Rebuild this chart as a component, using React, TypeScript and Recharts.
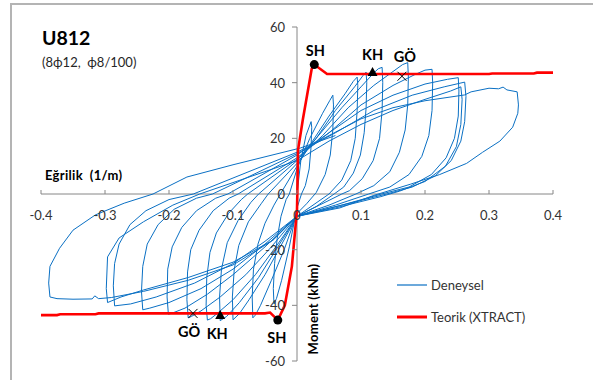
import React from 'react';
import { ScatterChart, Scatter, XAxis, YAxis, ReferenceLine, Legend } from 'recharts';

// ---- tick values / labels ----
const xTicks = [-0.4, -0.3, -0.2, -0.1, 0, 0.1, 0.2, 0.3, 0.4];
const xTickLabels = ['-0.4', '-0.3', '-0.2', '-0.1', '0', '0.1', '0.2', '0.3', '0.4'];
const yTicks = [-60, -40, -20, 0, 20, 40, 60];
const yTickLabels = ['-60', '-40', '-20', '0', '20', '40', '60'];

// ---- Deneysel (experimental) hysteresis: [curvature 1/m, moment kNm] ----
const cycle1 = [[0,0],[0.006,12],[0.014,21],[0.022,26],[0.023,24],[0.022,17],[0.019,9],[0.013,3],[0.007,0],[0,-5],[-0.012,-19],[-0.024,-31],[-0.032,-37.5],[-0.036,-39.5],[-0.037,-34],[-0.035,-25],[-0.031,-16],[-0.025,-8],[-0.017,-2],[-0.012,0],[0,9]];
const cycle2 = [[0.02,20],[0.04,29],[0.051,33.5],[0.056,35.5],[0.057,32],[0.056,23],[0.052,14],[0.044,7],[0.03,0.5],[0.015,-3.5],[0,-7],[-0.02,-20],[-0.04,-31],[-0.057,-40],[-0.065,-43.5],[-0.069,-44.5],[-0.07,-37],[-0.068,-27],[-0.061,-18],[-0.05,-10.5],[-0.036,-4],[-0.026,0],[0,10]];
const cycle3 = [[0.02,17.5],[0.05,28],[0.075,36],[0.088,40.5],[0.094,42],[0.095,39],[0.094,30],[0.091,20],[0.084,12],[0.07,5],[0.05,0],[0.025,-4],[0,-8],[-0.025,-18.5],[-0.05,-29],[-0.075,-38],[-0.09,-43],[-0.1,-45.2],[-0.101,-37],[-0.098,-27],[-0.091,-18.5],[-0.076,-10],[-0.056,-3.5],[-0.045,0],[0,11]];
const cycle4 = [[0.03,20],[0.06,30],[0.09,38.5],[0.103,42.5],[0.108,43.8],[0.109,40],[0.108,31],[0.105,22],[0.099,14],[0.088,7.5],[0.073,2.5],[0.058,0],[0.03,-4.5],[0,-8],[-0.03,-19],[-0.06,-30],[-0.09,-39],[-0.11,-44],[-0.12,-45.5],[-0.121,-37],[-0.118,-27],[-0.109,-17.5],[-0.092,-9.5],[-0.072,-3],[-0.06,0],[0,12]];
const cycle5 = [[0.03,20],[0.07,31],[0.1,38.5],[0.12,43.5],[0.127,45],[0.133,45.5],[0.134,40],[0.133,30],[0.129,20],[0.119,12],[0.102,5.5],[0.082,1.2],[0.07,0],[0.035,-4],[0,-8],[-0.03,-18],[-0.065,-29],[-0.1,-38],[-0.125,-43],[-0.135,-44.8],[-0.14,-45.3],[-0.142,-40],[-0.141,-30],[-0.136,-21],[-0.126,-14],[-0.107,-7],[-0.087,-2],[-0.077,0],[0,12.5]];
const cycle6 = [[0.04,21],[0.08,31],[0.12,39],[0.15,44],[0.165,46.5],[0.173,47.2],[0.174,42],[0.173,32],[0.169,23],[0.16,15],[0.145,8],[0.12,3],[0.092,0],[0.05,-4],[0,-8],[-0.04,-19],[-0.08,-29],[-0.12,-37],[-0.15,-42],[-0.165,-44],[-0.17,-44.5],[-0.172,-38],[-0.171,-28],[-0.166,-20],[-0.153,-13],[-0.131,-6],[-0.106,-1.5],[-0.092,0],[0,13]];
const cycle7 = [[0.05,22],[0.1,32],[0.15,39],[0.185,43],[0.2,44.5],[0.211,44.8],[0.212,40],[0.211,30],[0.206,21],[0.195,13.5],[0.175,7],[0.145,2.5],[0.112,0],[0.06,-4],[0,-8],[-0.05,-19],[-0.1,-29],[-0.14,-36],[-0.175,-41],[-0.195,-42.8],[-0.201,-43.2],[-0.203,-37],[-0.202,-27],[-0.195,-19],[-0.18,-12],[-0.157,-6],[-0.127,-1.5],[-0.108,0],[0,14]];
const cycle8 = [[0.05,22],[0.1,30],[0.15,35.5],[0.2,39.5],[0.235,41.2],[0.252,41.8],[0.253,37],[0.252,28],[0.246,20],[0.233,13],[0.21,7],[0.175,2.5],[0.132,0],[0.07,-4],[0,-8],[-0.05,-18],[-0.1,-27],[-0.15,-34],[-0.2,-39],[-0.23,-41],[-0.241,-41.6],[-0.243,-35],[-0.241,-26],[-0.234,-18],[-0.217,-11],[-0.192,-5.5],[-0.157,-1.5],[-0.132,0],[0,14.5]];
const cycle9 = [[0.06,22],[0.12,30],[0.18,35.5],[0.23,38.5],[0.262,40.2],[0.264,35],[0.262,26],[0.256,19],[0.241,12],[0.216,6.5],[0.18,2.5],[0.14,0],[0.07,-4],[0,-8],[-0.05,-17],[-0.1,-25],[-0.16,-32],[-0.22,-37],[-0.26,-39.5],[-0.285,-40.2],[-0.287,-33],[-0.285,-25],[-0.278,-18],[-0.261,-11],[-0.236,-6],[-0.2,-2],[-0.162,0],[0,15]];
const cycle10 = [[0.05,21],[0.1,27],[0.15,31],[0.2,33.5],[0.262,35.6],[0.272,36.7],[0.3,38],[0.315,37.8],[0.322,38.4],[0.328,37.4],[0.344,36.7],[0.346,32],[0.345,29],[0.337,24],[0.317,19],[0.29,15],[0.265,11],[0.223,7],[0.177,3.5],[0.12,-0.5],[0.067,-5],[0,-8],[-0.037,-16.5],[-0.1,-24.5],[-0.17,-30],[-0.24,-34.5],[-0.275,-37],[-0.296,-39],[-0.298,-34],[-0.296,-22.6],[-0.278,-15.8],[-0.24,-10],[-0.194,-4],[-0.152,0],[0,12]];
const cycle11 = [[0.05,19],[0.1,25],[0.15,30],[0.2,34],[0.24,37],[0.256,38.5],[0.258,34],[0.256,25],[0.249,17],[0.232,10],[0.2,4.5],[0.16,1],[0.13,-1],[0.06,-5],[0,-8],[-0.04,-17],[-0.1,-25.5],[-0.17,-31],[-0.24,-35],[-0.29,-37.2],[-0.31,-37.6],[-0.316,-36.6],[-0.32,-37.7],[-0.35,-37.8],[-0.375,-37.6],[-0.386,-37],[-0.388,-32],[-0.386,-26],[-0.371,-19.5],[-0.35,-13],[-0.315,-7.5],[-0.27,-3.3],[-0.225,0],[-0.172,6.1],[-0.1,10.5],[0.005,16.5],[0.06,21]];

// ---- Teorik (XTRACT) ----
const teorik = [[-0.4,-43.5],[-0.375,-43.5],[-0.37,-43.2],[-0.315,-43.2],[-0.31,-42.9],[-0.05,-42.9],[-0.042,-42.6],[-0.03,-45.3],[-0.019,-40],[-0.008,-26],[0,-5.7],[0.0005,0],[0.0016,15.8],[0.009,26.6],[0.023,45],[0.027,46.5],[0.047,43.1],[0.3,43.1],[0.305,43.3],[0.37,43.3],[0.375,43.6],[0.4,43.6]];

// ---- markers ----
const shPoints = [[0.027,46.5],[-0.03,-45.3]];
const khPoints = [[0.118,43.8],[-0.12,-43.5]];
const goPoints = [[0.164,42.3],[-0.1625,-42.9]];

const toObj = (arr: number[][]) => arr.map(([x, y]) => ({ x, y }));
const deneyselData = toObj([...cycle1, ...cycle2, ...cycle3, ...cycle4, ...cycle5, ...cycle6, ...cycle7, ...cycle8, ...cycle9, ...cycle10, ...cycle11]);
const teorikData = toObj(teorik);

const FONT = "Lato, 'Open Sans', 'DejaVu Sans', sans-serif";
const AXIS = '#868686';
const BLUE = '#0A70C4';
const RED = '#FF0000';
const TXT = '#333333';
const X0 = 297; // pixel position of x = 0
const Y0 = 194; // pixel position of y = 0

const XTick = (props: any) => {
  const { x, payload } = props;
  const label = xTickLabels[xTicks.indexOf(payload.value)];
  return (
    <g>
      <line x1={x} x2={x} y1={Y0 - 4} y2={Y0} stroke={AXIS} strokeWidth={1} />
      <text x={x} y={Y0 + 21} textAnchor="middle" dominantBaseline="central" fontSize={13} fill={TXT} fontFamily={FONT}>{label}</text>
    </g>
  );
};

const YTick = (props: any) => {
  const { y, payload } = props;
  const label = yTickLabels[yTicks.indexOf(payload.value)];
  return (
    <g>
      <line x1={X0 - 5} x2={X0} y1={y} y2={y} stroke={AXIS} strokeWidth={1} />
      <text x={X0 - 12} y={y} textAnchor="end" dominantBaseline="central" fontSize={13} fill={TXT} fontFamily={FONT}>{label}</text>
    </g>
  );
};

const NoShape = () => <g />;

const labelText = (cx: number, cy: number, up: boolean, text: string, dxUp: number, dyUp: number, dxDn: number, dyDn: number) => (
  <text x={cx + (up ? dxUp : dxDn)} y={cy + (up ? dyUp : dyDn)} textAnchor="middle" dominantBaseline="central" fontSize={14.5} fontWeight="bold" fill="#000" fontFamily={FONT}>{text}</text>
);

const SHShape = (p: any) => {
  const { cx, cy, payload } = p;
  const up = payload.y > 0;
  return (
    <g>
      <circle cx={cx} cy={cy} r={4.5} fill="#000" />
      {labelText(cx, cy, up, 'SH', 1, -14, -1, 17)}
    </g>
  );
};

const KHShape = (p: any) => {
  const { cx, cy, payload } = p;
  const up = payload.y > 0;
  return (
    <g>
      <path d={`M${cx},${cy - 5} L${cx + 5},${cy + 4} L${cx - 5},${cy + 4} Z`} fill="#000" />
      {labelText(cx, cy, up, 'KH', 0, -18, -3, 18)}
    </g>
  );
};

const GOShape = (p: any) => {
  const { cx, cy, payload } = p;
  const up = payload.y > 0;
  return (
    <g>
      <path d={`M${cx - 4.5},${cy - 4.5} L${cx + 4.5},${cy + 4.5} M${cx + 4.5},${cy - 4.5} L${cx - 4.5},${cy + 4.5}`} stroke="#000" strokeWidth={1} />
      {labelText(cx, cy, up, 'GÖ', 3, -20, -4, 18)}
    </g>
  );
};

const legendItems = [
  { name: 'Deneysel', color: BLUE, width: 1.2 },
  { name: 'Teorik (XTRACT)', color: RED, width: 3 },
];

const LegendBox = () => (
  <svg width={160} height={60}>
    {legendItems.map((it, i) => (
      <g key={it.name}>
        <line x1={2} x2={32} y1={13 + i * 32} y2={13 + i * 32} stroke={it.color} strokeWidth={it.width} />
        <text x={36} y={13 + i * 32} dominantBaseline="central" fontSize={13} fill={TXT} fontFamily={FONT}>{it.name}</text>
      </g>
    ))}
  </svg>
);

export default function App() {
  return (
    <div style={{ position: 'absolute', left: 0, top: 0, width: 593, height: 380, overflow: 'hidden', background: '#fff' }}>
      <div style={{ position: 'absolute', left: 10, top: 3, width: 700, height: 500, border: '2px solid #b4b4b4', boxSizing: 'border-box' }} />
      <div style={{ position: 'absolute', left: 0, top: 0 }}>
        <ScatterChart width={593} height={380} margin={{ top: 27, right: 40, bottom: 0, left: 0 }}>
          <XAxis type="number" dataKey="x" domain={[-0.4, 0.4]} ticks={xTicks} interval={0} height={19} axisLine={false} tickLine={false} tick={<XTick />} />
          <YAxis type="number" dataKey="y" domain={[-60, 60]} ticks={yTicks} interval={0} width={41} axisLine={false} tickLine={false} tick={<YTick />} />
          <ReferenceLine y={0} stroke={AXIS} strokeWidth={1} />
          <ReferenceLine x={0} stroke={AXIS} strokeWidth={1} />
          <Scatter name="Deneysel" data={deneyselData} line={{ stroke: BLUE, strokeWidth: 1 }} shape={NoShape} isAnimationActive={false} />
          <Scatter name="Teorik (XTRACT)" data={teorikData} line={{ stroke: RED, strokeWidth: 2.6 }} shape={NoShape} isAnimationActive={false} />
          <Scatter name="SH" data={toObj(shPoints)} shape={SHShape} isAnimationActive={false} legendType="none" />
          <Scatter name="KH" data={toObj(khPoints)} shape={KHShape} isAnimationActive={false} legendType="none" />
          <Scatter name="GÖ" data={toObj(goPoints)} shape={GOShape} isAnimationActive={false} legendType="none" />
          <Legend layout="vertical" align="center" verticalAlign="middle" wrapperStyle={{ position: 'absolute', left: 395, top: 272, width: 160, height: 60 }} content={() => <LegendBox />} />
        </ScatterChart>
      </div>
      <svg width={593} height={380} style={{ position: 'absolute', left: 0, top: 0, pointerEvents: 'none' }}>
        <text x={42} y={45} fontSize={19.5} fontWeight="bold" fill="#000" fontFamily={FONT}>U812</text>
        <text x={42} y={67} fontSize={13} fill="#262626" fontFamily={FONT} style={{ whiteSpace: 'pre' }}>{'(8ϕ12,\u00A0 ϕ8/100)'}</text>
        <text x={45} y={180} fontSize={13} fontWeight="bold" fill="#000" fontFamily={FONT} letterSpacing={0.3} style={{ whiteSpace: 'pre' }}>{'Eğrilik\u00A0 (1/m)'}</text>
        <text x={313} y={309} transform="rotate(-90 313 309)" textAnchor="middle" dominantBaseline="central" fontSize={13} fontWeight="bold" fill="#000" fontFamily={FONT} letterSpacing={0.3}>Moment (kNm)</text>
      </svg>
    </div>
  );
}
